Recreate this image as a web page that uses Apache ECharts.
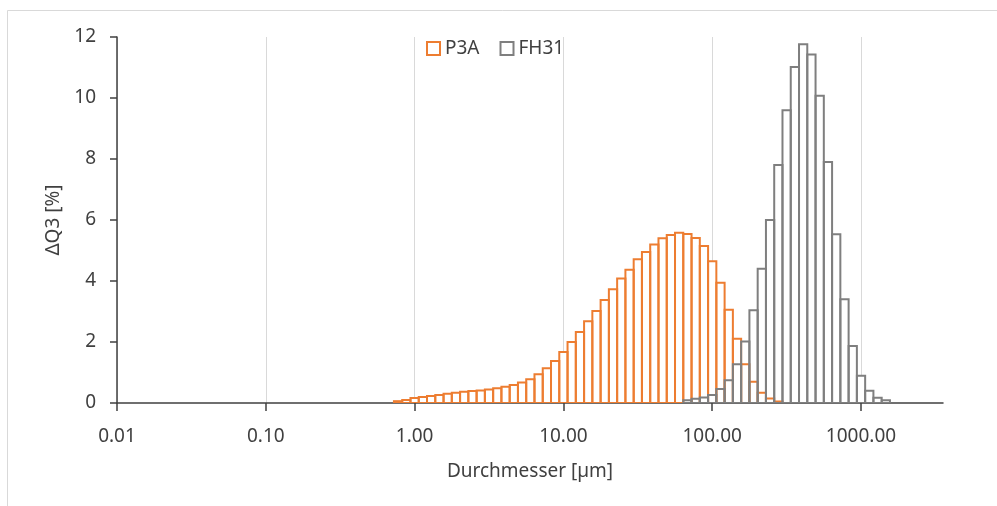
<!DOCTYPE html>
<html>
<head>
<meta charset="utf-8">
<title>Partikelgrößenverteilung</title>
<script src="https://cdn.jsdelivr.net/npm/echarts@6/dist/echarts.min.js"></script>
<style>
  html, body { margin: 0; padding: 0; background: #fff; }
  #chart { width: 997px; height: 506px; }
</style>
</head>
<body>
<div id="chart"></div>
<script>
// Klassenmitten [µm], 18 Klassen pro Dekade
var sizes = [
    0.7743, 0.8799,
    1.0000, 1.1365, 1.2915, 1.4678, 1.6681, 1.8957, 2.1544, 2.4484, 2.7826,
    3.1623, 3.5938, 4.0842, 4.6416, 5.2749, 5.9948, 6.8129, 7.7426, 8.7992,
    10.000, 11.365, 12.915, 14.678, 16.681, 18.957, 21.544, 24.484, 27.826,
    31.623, 35.938, 40.842, 46.416, 52.749, 59.948, 68.129, 77.426, 87.992,
    100.00, 113.65, 129.15, 146.78, 166.81, 189.57, 215.44, 244.84, 278.26,
    316.23, 359.38, 408.42, 464.16, 527.49, 599.48, 681.29, 774.26, 879.92,
    1000.0, 1136.5, 1291.5, 1467.8
];

// ΔQ3 [%] je Klasse (null = keine Säule)
var p3a = [
    0.06, 0.10,
    0.16, 0.20, 0.23, 0.26, 0.30, 0.34, 0.37, 0.39, 0.41,
    0.44, 0.48, 0.53, 0.59, 0.67, 0.78, 0.94, 1.14, 1.38,
    1.67, 2.00, 2.33, 2.68, 3.02, 3.38, 3.73, 4.08, 4.37,
    4.71, 4.95, 5.20, 5.40, 5.51, 5.58, 5.54, 5.41, 5.15,
    4.65, 3.94, 3.06, 2.11, 1.27, 0.70, 0.34, 0.15, 0.05,
    null, null, null, null, null, null, null, null, null,
    null, null, null, null
];
var fh31 = [
    null, null,
    null, null, null, null, null, null, null, null, null,
    null, null, null, null, null, null, null, null, null,
    null, null, null, null, null, null, null, null, null,
    null, null, null, null, null, null, 0.09, 0.14, 0.18,
    0.26, 0.46, 0.75, 1.27, 2.02, 3.04, 4.40, 6.00, 7.80,
    9.60, 11.02, 11.76, 11.43, 10.07, 7.90, 5.53, 3.40, 1.87,
    0.89, 0.40, 0.17, 0.09
];

var xTicks = [0.01, 0.1, 1, 10, 100, 1000];

var orange = '#ED7D31';
var grey = '#7F7F7F';
var textColor = '#404040';
var fontName = 'Noto Sans';

// Säulen: [untere Grenze, obere Grenze, Wert]
function binData(values) {
    var out = [];
    var n = sizes.length;
    for (var i = 0; i < n; i++) {
        if (values[i] == null) continue;
        var lo = i > 0 ? Math.sqrt(sizes[i - 1] * sizes[i]) : sizes[0] / Math.sqrt(sizes[1] / sizes[0]);
        var hi = i < n - 1 ? Math.sqrt(sizes[i] * sizes[i + 1]) : sizes[i] * Math.sqrt(sizes[i] / sizes[i - 1]);
        out.push([lo, hi, values[i]]);
    }
    return out;
}

function barRenderer(stroke, fill) {
    return function (params, api) {
        var p0 = api.coord([api.value(0), 0]);
        var p1 = api.coord([api.value(1), api.value(2)]);
        return {
            type: 'rect',
            shape: { x: p0[0], y: p1[1], width: p1[0] - p0[0], height: p0[1] - p1[1] },
            style: { fill: fill, stroke: stroke, lineWidth: stroke === 'none' ? 0 : 2 }
        };
    };
}

function barSeries(name, values, stroke, fill, z) {
    return {
        name: name,
        type: 'custom',
        renderItem: barRenderer(stroke, fill),
        data: binData(values),
        encode: { x: [0, 1], y: 2 },
        clip: true,
        silent: true,
        z: z
    };
}

var chart = echarts.init(document.getElementById('chart'), null, { renderer: 'canvas' });

var option = {
    backgroundColor: '#fff',
    animation: false,
    textStyle: { fontFamily: fontName },
    graphic: [{
        type: 'rect',
        shape: { x: 7.5, y: 10.5, width: 1100, height: 600 },
        style: { fill: 'none', stroke: '#d9d9d9', lineWidth: 1 },
        silent: true,
        z: -10
    }],
    legend: {
        data: [
            { name: 'P3A', icon: 'rect', itemStyle: { color: '#fff', borderColor: orange, borderWidth: 2 } },
            { name: 'FH31', icon: 'rect', itemStyle: { color: '#fff', borderColor: grey, borderWidth: 2 } }
        ],
        left: 421,
        top: 34,
        itemWidth: 13,
        itemHeight: 13,
        itemGap: 20,
        selectedMode: false,
        textStyle: { fontSize: 19, color: textColor, fontFamily: fontName }
    },
    grid: { left: 117, right: 54, top: 37, bottom: 103, containLabel: false },
    xAxis: {
        type: 'log',
        logBase: 10,
        min: 0.01,
        max: 3556,
        name: 'Durchmesser [µm]',
        nameLocation: 'middle',
        nameGap: 59,
        nameTextStyle: { fontSize: 19, color: textColor, fontFamily: fontName },
        axisLine: { show: true, lineStyle: { color: textColor, width: 1.5 } },
        axisTick: { show: true, length: 8, inside: false, customValues: xTicks, lineStyle: { color: textColor, width: 1.5 } },
        axisLabel: {
            customValues: xTicks,
            margin: 24,
            fontSize: 19,
            color: textColor,
            fontFamily: fontName,
            formatter: function (v) { return Number(v).toFixed(2); }
        },
        splitLine: { show: true, lineStyle: { color: '#d9d9d9', width: 1 } }
    },
    yAxis: {
        type: 'value',
        min: 0,
        max: 12,
        interval: 2,
        name: 'ΔQ3 [%]',
        nameLocation: 'middle',
        nameGap: 52,
        nameTextStyle: { fontSize: 19, color: textColor, fontFamily: fontName },
        axisLine: { show: true, lineStyle: { color: textColor, width: 1.5 } },
        axisTick: { show: true, length: 7, inside: false, lineStyle: { color: textColor, width: 1.5 } },
        axisLabel: { margin: 21, fontSize: 19, color: textColor, fontFamily: fontName },
        splitLine: { show: false }
    },
    series: [
        // weiße Füllungen unten, damit Gitterlinien verdeckt werden
        barSeries('P3A fill', p3a, 'none', '#fff', 2),
        barSeries('FH31 fill', fh31, 'none', '#fff', 2),
        // Umrisse oben, beide Reihen bleiben sichtbar
        barSeries('P3A', p3a, orange, 'none', 3),
        barSeries('FH31', fh31, grey, 'none', 3)
    ]
};

chart.setOption(option);
</script>
</body>
</html>
